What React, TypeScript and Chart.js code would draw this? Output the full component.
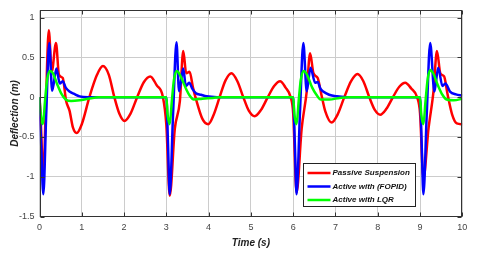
import React, { useEffect, useRef } from "react";
import { Chart, registerables } from "chart.js";

Chart.register(...registerables);

// ---- Data ----
const passiveT = [
  0, 0.03, 0.09, 0.15, 0.22, 0.29, 0.39, 0.46, 0.55, 0.63, 0.71, 0.79, 0.88, 1.0, 1.18, 1.36, 1.5, 1.64, 1.77, 1.89,
  2.01, 2.15, 2.31, 2.47, 2.62, 2.77, 2.92, 3.0, 3.08,
  3.2, 3.32, 3.4, 3.47, 3.55, 3.63, 3.72, 3.85, 3.99, 4.12, 4.26, 4.4, 4.54, 4.68, 4.82, 4.95, 5.09, 5.24, 5.4, 5.55,
  5.69, 5.82, 5.94, 6.0, 6.08,
  6.2, 6.32, 6.4, 6.48, 6.58, 6.66, 6.76, 6.91, 7.05, 7.21, 7.37, 7.52, 7.66, 7.8, 7.93, 8.06, 8.2, 8.36, 8.51, 8.65,
  8.79, 8.93, 9.0, 9.08,
  9.2, 9.32, 9.4, 9.48, 9.57, 9.65, 9.76, 9.87, 10,
];
const passiveY = [
  0, -0.3, -1.0, -0.1, 0.84, 0.32, 0.68, 0.28, 0.24, -0.05, -0.17, -0.38, -0.45, -0.34, 0, 0.28, 0.39, 0.28, 0, -0.21,
  -0.3, -0.21, 0, 0.19, 0.26, 0.15, 0, -0.35, -1.24,
  -0.4, -0.05, 0.58, 0.3, 0.32, 0.12, -0.06, -0.27, -0.34, -0.22, 0, 0.21, 0.3, 0.2, 0, -0.17, -0.24, -0.16, 0, 0.14,
  0.2, 0.12, 0, -0.2, -1.2,
  -0.4, 0.07, 0.55, 0.3, 0.24, 0.05, -0.18, -0.32, -0.22, 0, 0.2, 0.29, 0.2, 0, -0.16, -0.22, -0.15, 0, 0.13, 0.18,
  0.11, 0, -0.2, -1.02,
  -0.4, 0.08, 0.58, 0.3, 0.26, 0.04, -0.22, -0.33, -0.34,
];

const fopidT = [
  0, 0.04, 0.09, 0.16, 0.23, 0.3, 0.4, 0.48, 0.55, 0.62, 0.71, 0.82, 0.95, 1.15, 3.0,
  3.04, 3.08, 3.16, 3.24, 3.3, 3.4, 3.46, 3.54, 3.62, 3.7, 3.82, 3.95, 4.2, 6.0,
  6.04, 6.08, 6.16, 6.24, 6.32, 6.41, 6.52, 6.58, 6.64, 6.71, 6.85, 7.03, 7.25, 9.0,
  9.04, 9.08, 9.16, 9.24, 9.34, 9.43, 9.53, 9.6, 9.71, 9.85, 10,
];
const fopidY = [
  0, -0.6, -1.22, -0.2, 0.68, 0.08, 0.36, 0.17, 0.2, 0.12, 0.07, 0.04, 0.01, 0, 0,
  -0.6, -1.22, -0.2, 0.69, 0.075, 0.36, 0.14, 0.18, 0.1, 0.05, 0.03, 0.01, 0, 0,
  -0.6, -1.22, -0.2, 0.68, 0.075, 0.37, 0.18, 0.19, 0.11, 0.07, 0.03, 0.01, 0, 0,
  -0.6, -1.22, -0.2, 0.68, 0.07, 0.37, 0.14, 0.17, 0.07, 0.035, 0.02,
];

const lqrT = [
  0, 0.03, 0.08, 0.13, 0.18, 0.25, 0.32, 0.42, 0.52, 0.62, 0.75, 0.95, 1.15, 1.4, 3.0,
  3.03, 3.08, 3.13, 3.18, 3.25, 3.32, 3.47, 3.55, 3.65, 3.85, 4.1, 4.3, 6.0,
  6.03, 6.08, 6.13, 6.18, 6.25, 6.32, 6.45, 6.55, 6.65, 6.85, 7.1, 7.3, 9.0,
  9.03, 9.08, 9.13, 9.18, 9.24, 9.31, 9.43, 9.53, 9.63, 9.8, 10,
];
const lqrY = [
  0, -0.22, -0.34, -0.05, 0.22, 0.33, 0.3, 0.16, 0.04, -0.03, -0.05, -0.04, -0.02, 0, 0,
  -0.22, -0.34, -0.05, 0.22, 0.33, 0.28, 0.1, 0.02, -0.03, -0.02, -0.01, 0, 0,
  -0.22, -0.34, -0.05, 0.22, 0.33, 0.29, 0.12, 0.03, -0.03, -0.03, -0.01, 0, 0,
  -0.22, -0.34, -0.05, 0.22, 0.34, 0.3, 0.14, 0.03, -0.03, -0.04, -0.02,
];

const seriesNames = ["Passive Suspension", "Active with (FOPID)", "Active with LQR"];
const seriesColors = ["#ff0000", "#0000ff", "#00ff00"];
const xTicks = [0, 1, 2, 3, 4, 5, 6, 7, 8, 9, 10];
const yTicks = [-1.5, -1, -0.5, 0, 0.5, 1];
const xTitle = "Time (s)";
const yTitle = "Deflection (m)";

const FONT = "'Liberation Sans', Arial, Helvetica, sans-serif";

function pts(t: number[], y: number[]) {
  return t.map((x, i) => ({ x, y: y[i] }));
}

const framePlugin = {
  id: "frameAndLegend",
  afterDraw(chart: any) {
    const { ctx, chartArea: ca, scales } = chart;
    ctx.save();
    // Box frame
    ctx.strokeStyle = "#333333";
    ctx.lineWidth = 1;
    const l = Math.round(ca.left) + 0.5;
    const r = Math.round(ca.right) - 0.5;
    const t = Math.round(ca.top) + 0.5;
    const b = Math.round(ca.bottom) - 0.5;
    ctx.strokeRect(l, t, r - l, b - t);
    // Inward tick marks
    ctx.beginPath();
    const tl = 4;
    xTicks.forEach((v) => {
      const px = Math.round(scales.x.getPixelForValue(v)) + 0.5;
      ctx.moveTo(px, b);
      ctx.lineTo(px, b - tl);
      ctx.moveTo(px, t);
      ctx.lineTo(px, t + tl);
    });
    yTicks.forEach((v) => {
      const py = Math.round(scales.y.getPixelForValue(v)) + 0.5;
      ctx.moveTo(l, py);
      ctx.lineTo(l + tl, py);
      ctx.moveTo(r, py);
      ctx.lineTo(r - tl, py);
    });
    ctx.stroke();

    // Legend box
    const bw = 112;
    const bh = 43;
    const bx = Math.round(ca.right - 47 - bw) + 0.5;
    const by = Math.round(ca.bottom - 11 - bh) + 0.5;
    ctx.fillStyle = "#ffffff";
    ctx.fillRect(bx, by, bw, bh);
    ctx.strokeStyle = "#222222";
    ctx.lineWidth = 1;
    ctx.strokeRect(bx, by, bw, bh);
    ctx.font = `italic bold 8px ${FONT}`;
    ctx.textBaseline = "middle";
    ctx.textAlign = "left";
    seriesNames.forEach((name, i) => {
      const yy = by + 9.5 + i * 13.5;
      ctx.strokeStyle = seriesColors[i];
      ctx.lineWidth = 2.5;
      ctx.beginPath();
      ctx.moveTo(bx + 4, yy);
      ctx.lineTo(bx + 27, yy);
      ctx.stroke();
      ctx.fillStyle = "#111111";
      ctx.fillText(name, bx + 29, yy);
    });
    ctx.restore();
  },
};

export default function App() {
  const ref = useRef<HTMLCanvasElement | null>(null);

  useEffect(() => {
    document.body.style.margin = "0";
    const canvas = ref.current;
    if (!canvas) return;
    Chart.defaults.font.family = FONT;
    const chart = new Chart(canvas, {
      type: "line",
      data: {
        datasets: [
          { label: seriesNames[0], data: pts(passiveT, passiveY), borderColor: seriesColors[0], order: 3 },
          { label: seriesNames[1], data: pts(fopidT, fopidY), borderColor: seriesColors[1], order: 2 },
          { label: seriesNames[2], data: pts(lqrT, lqrY), borderColor: seriesColors[2], order: 1 },
        ],
      },
      options: {
        animation: false,
        responsive: false,
        maintainAspectRatio: false,
        layout: { padding: { top: 9, right: 17.7, bottom: 0, left: 0 } },
        plugins: { legend: { display: false }, tooltip: { enabled: false } },
        elements: {
          point: { radius: 0 },
          line: { borderWidth: 2.5, cubicInterpolationMode: "monotone", fill: false },
        },
        scales: {
          x: {
            type: "linear",
            min: 0,
            max: 10,
            afterFit: (s: any) => {
              s.height = 40.5;
            },
            afterBuildTicks: (s: any) => {
              s.ticks = xTicks.map((v) => ({ value: v }));
            },
            ticks: {
              padding: 6,
              color: "#444444",
              font: { size: 9 },
              maxRotation: 0,
              callback: (v: any) => String(v),
            },
            grid: { color: "#cccccc", drawTicks: false, lineWidth: 1 },
            border: { display: false },
            title: {
              display: true,
              text: xTitle,
              color: "#222222",
              font: { size: 10, weight: "bold", style: "italic" },
              padding: { top: 0, bottom: 8 },
            },
          },
          y: {
            type: "linear",
            min: -1.5,
            max: 1.09,
            afterFit: (s: any) => {
              s.width = 39.5;
            },
            afterBuildTicks: (s: any) => {
              s.ticks = yTicks.map((v) => ({ value: v }));
            },
            ticks: {
              padding: 5,
              color: "#444444",
              font: { size: 9 },
              callback: (v: any) => String(v),
            },
            grid: { color: "#cccccc", drawTicks: false, lineWidth: 1 },
            border: { display: false },
            title: {
              display: true,
              text: yTitle,
              color: "#222222",
              font: { size: 10, weight: "bold", style: "italic" },
              padding: { top: 9, bottom: 0 },
            },
          },
        },
      } as any,
      plugins: [framePlugin],
    });
    return () => chart.destroy();
  }, []);

  return (
    <div style={{ width: 480, height: 257, background: "#ffffff" }}>
      <canvas ref={ref} width={480} height={257} style={{ display: "block", width: 480, height: 257 }} />
    </div>
  );
}
